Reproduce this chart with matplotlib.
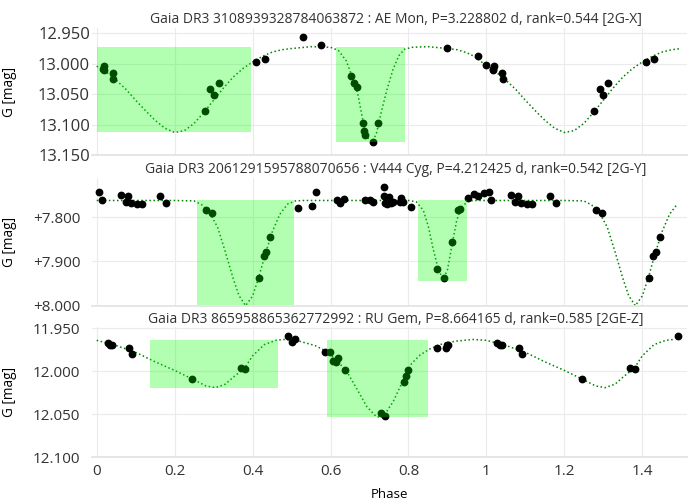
import matplotlib.pyplot as plt
import numpy as np
from matplotlib.ticker import FuncFormatter

plt.rcParams['font.family'] = ['Open Sans', 'DejaVu Sans']
plt.rcParams['text.color'] = '#333333'
plt.rcParams['xtick.color'] = '#333333'
plt.rcParams['ytick.color'] = '#333333'

# ---- panel 1 : AE Mon ----
ph1 = [0.019, 0.017, 0.018, 0.041, 0.043, 0.277, 0.291, 0.300, 0.313, 0.410, 0.431,
       0.530, 0.576, 0.652, 0.660, 0.669, 0.683, 0.686, 0.689, 0.709, 0.723, 0.898,
       0.978, 0.998]
g1 = [13.003, 13.008, 13.011, 13.015, 13.025, 13.078, 13.042, 13.051, 13.031, 12.997, 12.993,
      12.956, 12.970, 13.020, 13.032, 13.039, 13.098, 13.111, 13.117, 13.129, 13.097, 12.974,
      12.988, 13.002]
mph1 = [0.000, 0.025, 0.050, 0.075, 0.100, 0.125, 0.150, 0.175, 0.200, 0.225, 0.250, 0.275,
        0.300, 0.325, 0.350, 0.375, 0.400, 0.425, 0.450, 0.475, 0.500, 0.550, 0.600, 0.620,
        0.640, 0.655, 0.670, 0.685, 0.697, 0.707, 0.718, 0.730, 0.745, 0.760, 0.775, 0.790,
        0.810, 0.850, 0.900, 0.925, 0.950, 0.975, 1.000]
mg1 = [13.004, 13.014, 13.027, 13.042, 13.060, 13.077, 13.093, 13.106, 13.113, 13.110, 13.098, 13.080,
       13.060, 13.040, 13.022, 13.008, 12.997, 12.988, 12.981, 12.977, 12.975, 12.972, 12.973, 12.978,
       12.995, 13.020, 13.050, 13.100, 13.123, 13.129, 13.114, 13.080, 13.042, 13.010, 12.987, 12.976,
       12.973, 12.972, 12.975, 12.977, 12.982, 12.990, 13.004]
win1 = [(0.002, 0.397, 12.973, 13.113), (0.614, 0.791, 12.973, 13.128)]

# ---- panel 2 : V444 Cyg ----
ph2 = [0.007, 0.013, 0.062, 0.074, 0.080, 0.088, 0.103, 0.116, 0.162, 0.179, 0.280, 0.297,
       0.416, 0.428, 0.434, 0.445, 0.517, 0.553, 0.563, 0.617, 0.624, 0.635, 0.689, 0.700,
       0.708, 0.736, 0.737, 0.740, 0.746, 0.751, 0.754, 0.759, 0.778, 0.780, 0.787, 0.806,
       0.874, 0.891, 0.911, 0.928, 0.932, 0.954, 0.968, 0.979, 0.994]
g2 = [7.743, 7.762, 7.750, 7.765, 7.752, 7.768, 7.771, 7.770, 7.751, 7.768, 7.783, 7.791,
      7.937, 7.888, 7.878, 7.845, 7.778, 7.774, 7.743, 7.762, 7.768, 7.758, 7.761, 7.761,
      7.766, 7.752, 7.731, 7.768, 7.771, 7.753, 7.768, 7.766, 7.765, 7.756, 7.765, 7.776,
      7.916, 7.938, 7.857, 7.784, 7.782, 7.756, 7.748, 7.752, 7.744]
mph2 = [0.000, 0.200, 0.250, 0.270, 0.290, 0.310, 0.330, 0.350, 0.365, 0.382, 0.400, 0.415,
        0.432, 0.450, 0.470, 0.490, 0.510, 0.530, 0.800, 0.820, 0.838, 0.851, 0.864, 0.877,
        0.889, 0.900, 0.911, 0.924, 0.937, 0.954, 0.970, 1.000]
mg2 = [7.762, 7.762, 7.763, 7.772, 7.790, 7.822, 7.878, 7.938, 7.977, 8.000, 7.978, 7.938,
       7.885, 7.834, 7.793, 7.770, 7.763, 7.762, 7.762, 7.765, 7.784, 7.821, 7.874, 7.919,
       7.940, 7.919, 7.866, 7.806, 7.776, 7.763, 7.762, 7.762]
win2 = [(0.258, 0.506, 7.762, 7.998), (0.824, 0.950, 7.762, 7.943)]

# ---- panel 3 : RU Gem ----
ph3 = [0.028, 0.034, 0.040, 0.083, 0.091, 0.245, 0.369, 0.380, 0.492, 0.500, 0.509, 0.586,
       0.598, 0.607, 0.614, 0.618, 0.638, 0.729, 0.740, 0.789, 0.793, 0.798, 0.874, 0.895,
       0.898, 0.902]
g3 = [11.967, 11.969, 11.970, 11.973, 11.980, 12.009, 11.996, 11.997, 11.959, 11.966, 11.962, 11.978,
      11.977, 11.988, 11.989, 11.985, 11.998, 12.048, 12.052, 12.013, 12.005, 11.999, 11.973, 11.973,
      11.970, 11.969]
mph3 = [0.000, 0.050, 0.100, 0.150, 0.200, 0.250, 0.280, 0.305, 0.330, 0.350, 0.380, 0.400,
        0.430, 0.460, 0.480, 0.520, 0.560, 0.590, 0.610, 0.640, 0.667, 0.693, 0.718, 0.735,
        0.761, 0.787, 0.808, 0.830, 0.855, 0.880, 0.920, 0.965, 1.000]
mg3 = [11.964, 11.970, 11.978, 11.989, 11.999, 12.010, 12.017, 12.019, 12.015, 12.007, 11.996, 11.982,
       11.969, 11.964, 11.963, 11.965, 11.970, 11.977, 11.985, 11.999, 12.020, 12.041, 12.053, 12.053,
       12.035, 12.010, 11.991, 11.981, 11.974, 11.969, 11.965, 11.963, 11.964]
win3 = [(0.137, 0.466, 11.964, 12.019), (0.592, 0.851, 11.964, 12.053)]

titles = ['Gaia DR3 3108939328784063872 : AE Mon, P=3.228802 d, rank=0.544 [2G-X]',
          'Gaia DR3 2061291595788070656 : V444 Cyg, P=4.212425 d, rank=0.542 [2G-Y]',
          'Gaia DR3 865958865362772992 : RU Gem, P=8.664165 d, rank=0.585 [2GE-Z]']
yticks = [[12.95, 13.0, 13.05, 13.1, 13.15], [7.8, 7.9, 8.0], [11.95, 12.0, 12.05, 12.1]]
ylims = [(13.15, 12.9413), (8.0, 7.710), (12.1, 11.9485)]
xticks = [0, 0.2, 0.4, 0.6, 0.8, 1.0, 1.2, 1.4]


def fold(p, v, upto):
    # repeat the first part of the cycle after phase 1
    p = np.asarray(p)
    v = np.asarray(v)
    sel = (p > 0) & (p + 1 <= upto)
    return (np.concatenate([p, p[sel] + 1]),
            np.concatenate([v, v[sel]]))


fig = plt.figure(figsize=(6.95, 5.0), dpi=100)
W, H = 695.0, 500.0
# pixel boxes (top, bottom) of each panel
boxes = [(28, 155), (177.5, 305.7), (327, 457.3)]
left, right = 92, 687

panels = [(ph1, g1, mph1, mg1, win1), (ph2, g2, mph2, mg2, win2), (ph3, g3, mph3, mg3, win3)]
for i, (ph, g, mph, mg, win) in enumerate(panels):
    top, bot = boxes[i]
    ax = fig.add_axes([left / W, 1 - bot / H, (right - left) / W, (bot - top) / H])
    for s in ['top', 'right', 'left']:
        ax.spines[s].set_visible(False)
    ax.spines['bottom'].set_color('#e2e2e2')
    ax.spines['bottom'].set_linewidth(1.2)
    ax.grid(True, color='#ebebeb', linewidth=0.8)
    ax.set_axisbelow(True)

    mp, mv = fold(mph, mg, 1.5)
    ax.plot(mp, mv, color='green', linestyle=':', linewidth=1.1, zorder=2)
    dp, dv = fold(ph, g, 1.4999)
    ax.plot(dp, dv, 'o', color='black', markersize=4.6, zorder=3)
    for x0, x1, y0, y1 in win:
        ax.fill_between([x0, x1], y0, y1, color='lime', alpha=0.3, linewidth=0, zorder=4)

    ax.set_xlim(-0.0121, 1.5147)
    ax.set_ylim(*ylims[i])
    ax.set_xticks(xticks)
    ax.set_yticks(yticks[i])
    if i == 1:
        ax.yaxis.set_major_formatter(FuncFormatter(lambda v, pos: '%+.3f' % v))
    else:
        ax.yaxis.set_major_formatter(FuncFormatter(lambda v, pos: '%.3f' % v))
    if i == 0:
        ax.tick_params(axis='y', length=0, pad=1.5, labelsize=12)
    else:
        ax.tick_params(axis='y', length=0, pad=8.5, labelsize=11)
    if i < 2:
        ax.tick_params(axis='x', length=0, labelbottom=False)
    else:
        ax.tick_params(axis='x', length=0, pad=5, labelsize=11)
        ax.xaxis.set_major_formatter(FuncFormatter(lambda v, pos: '%g' % v))
        ax.set_xlabel('Phase', fontsize=9.5, labelpad=6)
    ax.set_ylabel('G [mag]', fontsize=9.8)
    ax.yaxis.set_label_coords((17 - left) / (right - left), 0.5)

    fig.text(396 / W, 1 - (top - 8) / H, titles[i], ha='center', va='center', fontsize=10)

plt.savefig('out.png', dpi=100)
